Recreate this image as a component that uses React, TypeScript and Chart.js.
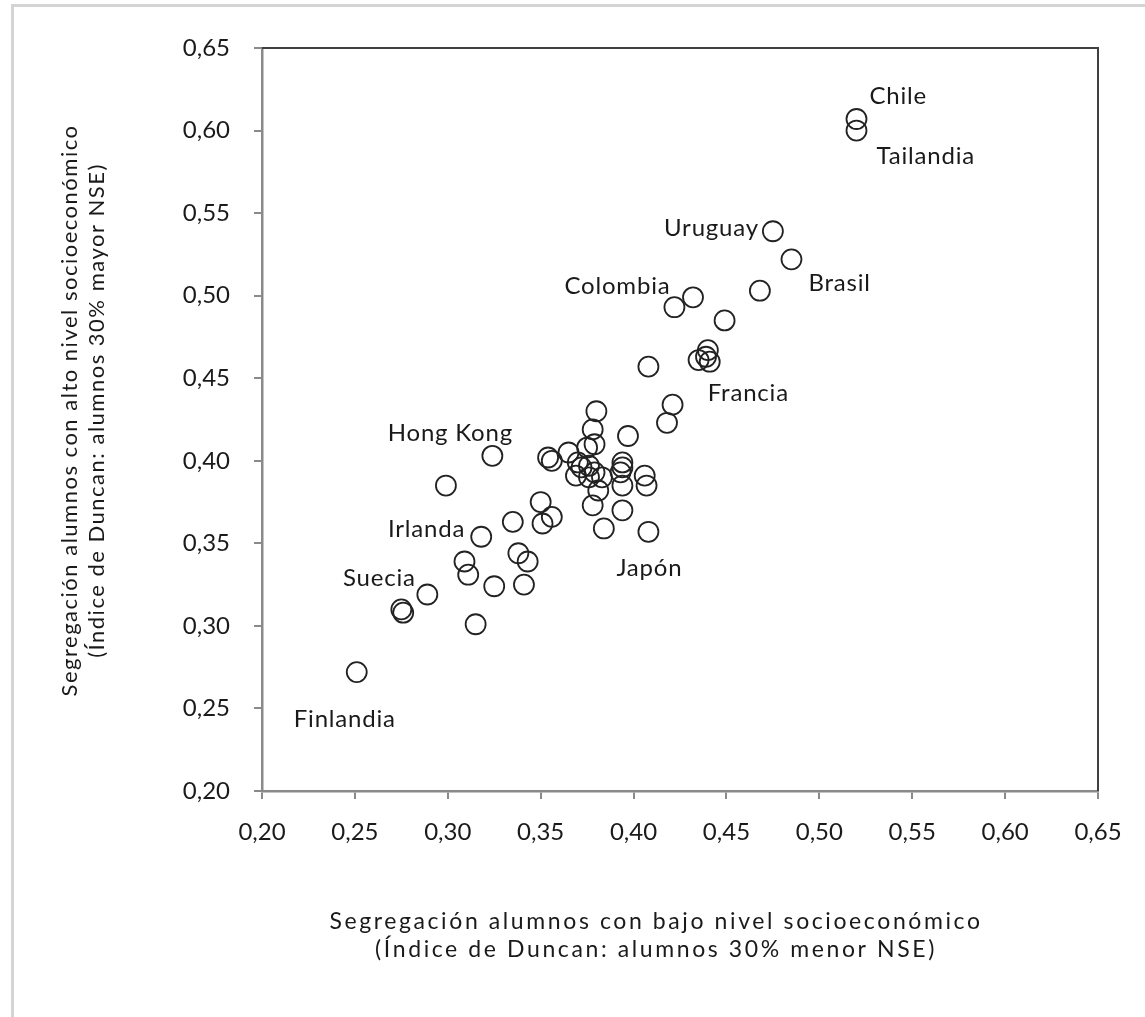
import React, { useEffect, useRef } from "react";
import { Chart, registerables } from "chart.js";

Chart.register(...registerables);

// Segregation of low-SES students (x) vs high-SES students (y), Duncan index
const xValues: number[] = [
  0.520, 0.520, 0.475, 0.485, 0.468, 0.432, 0.422, 0.449, 0.440, 0.439,
  0.435, 0.441, 0.408, 0.421, 0.418, 0.380, 0.378, 0.397, 0.324, 0.299,
  0.354, 0.356, 0.365, 0.375, 0.379, 0.370, 0.372, 0.376, 0.379, 0.376,
  0.383, 0.369, 0.381, 0.394, 0.394, 0.393, 0.394, 0.406, 0.407, 0.378,
  0.394, 0.408, 0.384, 0.350, 0.351, 0.356, 0.335, 0.318, 0.309, 0.311,
  0.338, 0.343, 0.325, 0.341, 0.289, 0.275, 0.276, 0.315, 0.251,
];
const yValues: number[] = [
  0.607, 0.600, 0.539, 0.522, 0.503, 0.499, 0.493, 0.485, 0.467, 0.463,
  0.461, 0.460, 0.457, 0.434, 0.423, 0.430, 0.419, 0.415, 0.403, 0.385,
  0.402, 0.400, 0.405, 0.408, 0.410, 0.399, 0.396, 0.397, 0.393, 0.390,
  0.390, 0.391, 0.382, 0.399, 0.396, 0.393, 0.385, 0.391, 0.385, 0.373,
  0.370, 0.357, 0.359, 0.375, 0.362, 0.366, 0.363, 0.354, 0.339, 0.331,
  0.344, 0.339, 0.324, 0.325, 0.319, 0.310, 0.308, 0.301, 0.272,
];

// Country labels and the index of the point each one names
const labelNames: string[] = [
  "Chile", "Tailandia", "Uruguay", "Brasil", "Colombia", "Francia",
  "Hong Kong", "Irlanda", "Japón", "Suecia", "Finlandia",
];
const labelPoint: number[] = [0, 1, 2, 3, 6, 11, 18, 47, 41, 55, 58];

// Axis ticks
const tickValues: number[] = [0.2, 0.25, 0.3, 0.35, 0.4, 0.45, 0.5, 0.55, 0.6, 0.65];

const xTitle: string[] = [
  "Segregación alumnos con bajo nivel socioeconómico",
  "(Índice de Duncan: alumnos 30% menor NSE)",
];
const yTitle: string[] = [
  "Segregación alumnos con alto nivel socioeconómico",
  "(Índice de Duncan: alumnos 30% mayor NSE)",
];

// Label placement styles (pixel offsets from point, alignment)
const labelStyle: Record<string, { dx: number; dy: number; align: CanvasTextAlign }> = {
  Chile: { dx: 13, dy: -23, align: "left" },
  Tailandia: { dx: 20, dy: 26, align: "left" },
  Uruguay: { dx: -14, dy: -3, align: "right" },
  Brasil: { dx: 17, dy: 24, align: "left" },
  Colombia: { dx: -4, dy: -21, align: "right" },
  Francia: { dx: -2, dy: 32, align: "left" },
  "Hong Kong": { dx: -42, dy: -23, align: "center" },
  Irlanda: { dx: -16, dy: -7, align: "right" },
  "Japón": { dx: 1, dy: 36, align: "center" },
  Suecia: { dx: -22, dy: -31, align: "center" },
  Finlandia: { dx: -12, dy: 47, align: "center" },
};

const FONT = "Lato, 'Noto Sans', sans-serif";
const TEXT_COLOR = "#1a1a1a";

const fmt = (v: number) => v.toFixed(2).replace(".", ",");

const overlayPlugin = {
  id: "overlay",
  afterDatasetsDraw(chart: any) {
    const { ctx, chartArea, scales } = chart;
    const xs = scales.x;
    const ys = scales.y;
    ctx.save();
    // top and right frame of plot box
    ctx.strokeStyle = "#404040";
    ctx.lineWidth = 2;
    ctx.beginPath();
    ctx.moveTo(chartArea.left, chartArea.top);
    ctx.lineTo(chartArea.right, chartArea.top);
    ctx.lineTo(chartArea.right, chartArea.bottom);
    ctx.stroke();

    // country labels
    ctx.fillStyle = TEXT_COLOR;
    ctx.font = `24px ${FONT}`;
    (ctx as any).letterSpacing = "0.8px";
    ctx.textBaseline = "middle";
    labelNames.forEach((name, i) => {
      const p = labelPoint[i];
      const st = labelStyle[name];
      const px = xs.getPixelForValue(xValues[p]);
      const py = ys.getPixelForValue(yValues[p]);
      ctx.textAlign = st.align;
      ctx.fillText(name, px + st.dx, py + st.dy);
    });

    // x axis title
    const cx = (chartArea.left + chartArea.right) / 2 - 24;
    ctx.textAlign = "center";
    ctx.font = `23px ${FONT}`;
    (ctx as any).letterSpacing = "2.6px";
    ctx.fillText(xTitle[0], cx, chartArea.bottom + 131);
    ctx.fillText(xTitle[1], cx, chartArea.bottom + 159);

    // y axis title (rotated)
    const cy = (chartArea.top + chartArea.bottom) / 2 - 9;
    ctx.font = `22px ${FONT}`;
    (ctx as any).letterSpacing = "1.5px";
    ctx.save();
    ctx.translate(70, cy);
    ctx.rotate(-Math.PI / 2);
    ctx.fillText(yTitle[0], 0, 0);
    ctx.restore();
    ctx.save();
    ctx.translate(97, cy);
    ctx.rotate(-Math.PI / 2);
    ctx.fillText(yTitle[1], 0, 0);
    ctx.restore();
    (ctx as any).letterSpacing = "0px";

    ctx.restore();
  },
};

export default function App() {
  const canvasRef = useRef<HTMLCanvasElement | null>(null);

  useEffect(() => {
    if (!canvasRef.current) return;
    const points = xValues.map((x, i) => ({ x, y: yValues[i] }));
    const axisCommon = {
      type: "linear" as const,
      min: 0.2,
      max: 0.65,
      afterBuildTicks: (scale: any) => {
        scale.ticks = tickValues.map((v) => ({ value: v }));
      },
      grid: {
        display: true,
        drawOnChartArea: false,
        drawTicks: true,
        tickLength: 8,
        tickColor: "#8a8a8a",
        lineWidth: 2,
      },
      border: { display: true, color: "#8a8a8a", width: 2.5 },
    };
    const chart = new Chart(canvasRef.current, {
      type: "scatter",
      data: {
        datasets: [
          {
            data: points,
            pointStyle: "circle",
            pointRadius: 10,
            pointHoverRadius: 10,
            borderColor: "#222222",
            borderWidth: 1.8,
            backgroundColor: "rgba(0,0,0,0)",
          },
        ],
      },
      options: {
        animation: false,
        responsive: false,
        devicePixelRatio: 1,
        events: [],
        layout: { padding: { left: 0, top: 48, right: 47, bottom: 0 } },
        plugins: {
          legend: { display: false },
          tooltip: { enabled: false },
          title: { display: false },
        },
        scales: {
          x: {
            ...axisCommon,
            position: "bottom",
            afterFit: (scale: any) => {
              scale.height = 226;
            },
            ticks: {
              padding: 19,
              color: TEXT_COLOR,
              font: { family: FONT, size: 24 },
              maxRotation: 0,
              callback: (v: any) => fmt(Number(v)),
            },
          },
          y: {
            ...axisCommon,
            position: "left",
            afterFit: (scale: any) => {
              scale.width = 262;
            },
            ticks: {
              padding: 24,
              color: TEXT_COLOR,
              font: { family: FONT, size: 24 },
              callback: (v: any) => fmt(Number(v)),
            },
          },
        },
      },
      plugins: [overlayPlugin],
    });
    return () => chart.destroy();
  }, []);

  return (
    <div
      style={{
        position: "absolute",
        left: 0,
        top: 0,
        width: 1145,
        height: 1017,
        overflow: "hidden",
        background: "#ffffff",
      }}
    >
      <div
        style={{
          position: "absolute",
          left: 11,
          top: 4,
          width: 1200,
          height: 1100,
          border: "3px solid #d4d4d4",
          boxSizing: "border-box",
        }}
      />
      <canvas
        ref={canvasRef}
        width={1145}
        height={1017}
        style={{ position: "absolute", left: 0, top: 0, width: 1145, height: 1017 }}
      />
    </div>
  );
}
